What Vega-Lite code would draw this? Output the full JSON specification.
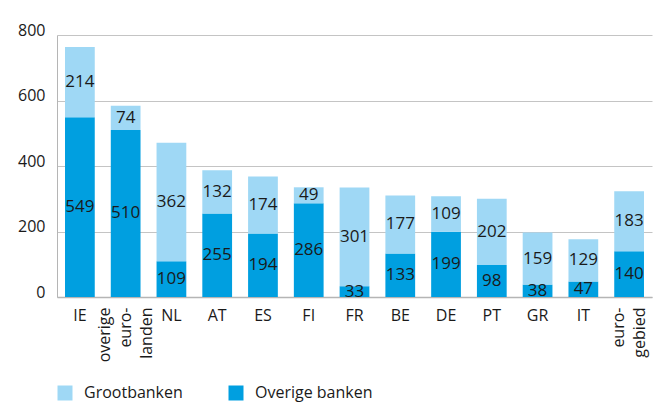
{
  "$schema": "https://vega.github.io/schema/vega-lite/v6.json",
  "width": 595,
  "height": 262,
  "autosize": "none",
  "padding": {"left": 57, "top": 35, "right": 2, "bottom": 109},
  "background": "white",
  "config": {
    "font": "Open Sans",
    "view": {"stroke": null},
    "axis": {"labelColor": "#1a1a1a", "labelFontSize": 16, "title": null, "ticks": false}
  },
  "data": {
    "values": [
      {"land": "IE", "reeks": "Overige banken", "waarde": 549},
      {"land": "IE", "reeks": "Grootbanken", "waarde": 214},
      {"land": "overige euro- landen", "reeks": "Overige banken", "waarde": 510},
      {"land": "overige euro- landen", "reeks": "Grootbanken", "waarde": 74},
      {"land": "NL", "reeks": "Overige banken", "waarde": 109},
      {"land": "NL", "reeks": "Grootbanken", "waarde": 362},
      {"land": "AT", "reeks": "Overige banken", "waarde": 255},
      {"land": "AT", "reeks": "Grootbanken", "waarde": 132},
      {"land": "ES", "reeks": "Overige banken", "waarde": 194},
      {"land": "ES", "reeks": "Grootbanken", "waarde": 174},
      {"land": "FI", "reeks": "Overige banken", "waarde": 286},
      {"land": "FI", "reeks": "Grootbanken", "waarde": 49},
      {"land": "FR", "reeks": "Overige banken", "waarde": 33},
      {"land": "FR", "reeks": "Grootbanken", "waarde": 301},
      {"land": "BE", "reeks": "Overige banken", "waarde": 133},
      {"land": "BE", "reeks": "Grootbanken", "waarde": 177},
      {"land": "DE", "reeks": "Overige banken", "waarde": 199},
      {"land": "DE", "reeks": "Grootbanken", "waarde": 109},
      {"land": "PT", "reeks": "Overige banken", "waarde": 98},
      {"land": "PT", "reeks": "Grootbanken", "waarde": 202},
      {"land": "GR", "reeks": "Overige banken", "waarde": 38},
      {"land": "GR", "reeks": "Grootbanken", "waarde": 159},
      {"land": "IT", "reeks": "Overige banken", "waarde": 47},
      {"land": "IT", "reeks": "Grootbanken", "waarde": 129},
      {"land": "euro- gebied", "reeks": "Overige banken", "waarde": 140},
      {"land": "euro- gebied", "reeks": "Grootbanken", "waarde": 183}
    ]
  },
  "encoding": {
    "x": {
      "field": "land",
      "type": "nominal",
      "sort": null,
      "scale": {"paddingInner": 0.35, "paddingOuter": 0.175},
      "axis": {
        "domainColor": "#b5b5b5",
        "domainWidth": 1.5,
        "labelPadding": 10,
        "labelLineHeight": 21,
        "labelAngle": {"expr": "indexof(datum.value, ' ') >= 0 ? -90 : 0"},
        "labelAlign": {"expr": "indexof(datum.value, ' ') >= 0 ? 'right' : 'center'"},
        "labelBaseline": {"expr": "indexof(datum.value, ' ') >= 0 ? 'middle' : 'top'"},
        "labelOffset": {"expr": "indexof(datum.value, ' ') >= 0 ? -(length(split(datum.value, ' ')) - 1) * 10.5 : 0"},
        "labelExpr": "indexof(datum.value, ' ') >= 0 ? split(datum.value, ' ') : datum.value"
      }
    },
    "order": {"field": "reeks", "sort": "descending"}
  },
  "layer": [
    {
      "mark": {"type": "bar"},
      "encoding": {
        "y": {
          "field": "waarde",
          "type": "quantitative",
          "stack": "zero",
          "scale": {"domain": [0, 800], "nice": false},
          "axis": {
            "values": [0, 200, 400, 600, 800],
            "grid": true,
            "gridColor": "#c4c4c4",
            "domain": true,
            "domainColor": "#b5b5b5",
            "labelPadding": 12,
            "labelBaseline": "alphabetic"
          }
        },
        "color": {
          "field": "reeks",
          "type": "nominal",
          "scale": {"domain": ["Grootbanken", "Overige banken"], "range": ["#9fd8f5", "#009fe0"]},
          "legend": {
            "orient": "none",
            "legendX": 0,
            "legendY": 350,
            "direction": "horizontal",
            "title": null,
            "symbolType": "square",
            "symbolSize": 225,
            "symbolStrokeWidth": 0,
            "symbolOpacity": 1,
            "labelFontSize": 16,
            "labelColor": "#1a1a1a",
            "labelOffset": 11,
            "columnPadding": 45
          }
        }
      }
    },
    {
      "mark": {"type": "text", "fontSize": 17, "color": "#1a1a1a", "baseline": "middle"},
      "encoding": {
        "y": {"field": "waarde", "type": "quantitative", "stack": "zero", "bandPosition": 0.5},
        "detail": {"field": "reeks"},
        "text": {"field": "waarde", "type": "quantitative"}
      }
    }
  ]
}
